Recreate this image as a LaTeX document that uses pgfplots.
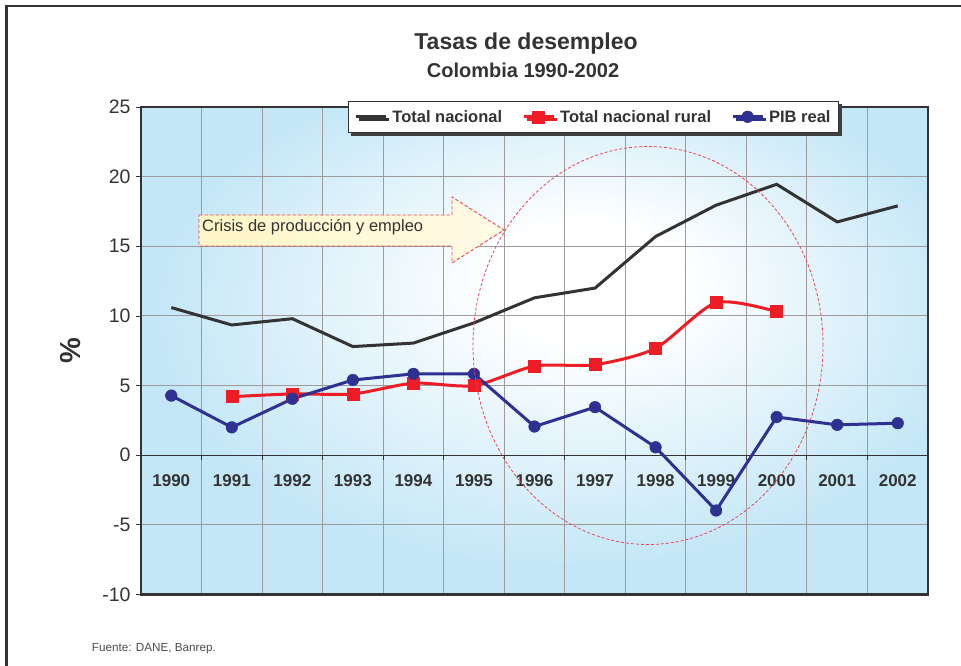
\documentclass[border=0pt]{standalone}
\usepackage{pgfplots}
\pgfplotsset{compat=1.18}
\usepackage{pgfplotstable}
\usepackage{fontspec}
\setmainfont{Liberation Sans}
\usetikzlibrary{shadows}
\definecolor{bgblue}{HTML}{C4E7F7}
\definecolor{txt}{HTML}{333333}
\definecolor{gridc}{HTML}{A09A9A}
\definecolor{serblack}{HTML}{333333}
\definecolor{serred}{HTML}{EE1C25}
\definecolor{serblue}{HTML}{2E3192}
\definecolor{arrowy}{HTML}{FFF6C6}
\definecolor{dashred}{HTML}{EE4455}
\pgfdeclareradialshading{bgshade}{\pgfpoint{4bp}{8bp}}{color(0bp)=(white); color(6bp)=(white); color(26bp)=(bgblue); color(50bp)=(bgblue)}

\pgfplotstableread{
x total
0 10.6
1 9.35
2 9.8
3 7.8
4 8.05
5 9.5
6 11.3
7 12.0
8 15.7
9 17.95
10 19.45
11 16.75
12 17.9
}\tnac
\pgfplotstableread{
x rural
1 4.2
2 4.4
3 4.4
4 5.17
5 5.0
6 6.4
7 6.5
8 7.68
9 10.95
10 10.3
}\trur
\pgfplotstableread{
x pib
0 4.28
1 2.0
2 4.05
3 5.4
4 5.84
5 5.84
6 2.06
7 3.45
8 0.57
9 -3.97
10 2.74
11 2.18
12 2.3
}\tpib

\begin{document}
\begin{tikzpicture}
\path[use as bounding box] (0,0) rectangle (961pt,666pt);
\clip (0,0) rectangle (961pt,666pt);
\draw[line width=2.8pt, txt] (6.5pt,-20pt) -- (6.5pt,660pt) -- (990pt,660pt);

\begin{axis}[
  at={(141pt,71.5pt)}, anchor=south west,
  scale only axis, width=787pt, height=487.5pt,
  xmin=-0.5, xmax=12.5, ymin=-10, ymax=25,
  axis background/.style={shade, shading=bgshade},
  xtick={0,...,12},
  xticklabels={1990,1991,1992,1993,1994,1995,1996,1997,1998,1999,2000,2001,2002},
  minor xtick={0.5,1.5,...,11.5},
  xminorgrids=true, ymajorgrids=true,
  ytick={-10,-5,...,25},
  xtick pos=left, ytick pos=left,
  grid style={gridc, line width=0.9pt},
  minor grid style={gridc, line width=0.9pt},
  axis line style={txt, line width=2.2pt},
  tick align=outside,
  major tick length=5pt, minor tick length=0pt,
  xtick style={draw=none},
  ytick style={txt, line width=0.8pt},
  /pgf/number format/assume math mode=true,
  xticklabel style={font=\fontsize{17}{20}\selectfont\bfseries, text=txt, anchor=center, yshift=119pt},
  yticklabel style={font=\fontsize{19.5}{22}\selectfont, text=txt, xshift=-2pt},
  ylabel={\%},
  every axis y label/.style={at={(axis description cs:-0.0896,0.5)}, rotate=90, anchor=center, font=\fontsize{29}{32}\selectfont\bfseries, text=txt},
  legend columns=3,
  legend cell align=left,
  legend style={at={(0.575,1.013)}, anchor=north, draw=txt, line width=0.8pt, fill=white,
    font=\fontsize{16.5}{19}\selectfont\bfseries, text=txt, inner xsep=6pt, inner ysep=7pt,
    drop shadow={shadow xshift=3pt, shadow yshift=-3pt, fill=black!75, opacity=1},
    /tikz/every even column/.append style={column sep=18pt},
    /tikz/every odd column/.append style={column sep=3pt}},
  legend image code/.code={\draw[mark repeat=2,mark phase=2] plot coordinates {(0pt,0pt) (15pt,0pt) (30pt,0pt)};},
]
\draw[txt, line width=1.4pt] (axis cs:-0.5,0) -- (axis cs:12.5,0);
\pgfplotsinvokeforeach{0.5,1.5,...,11.5}{\draw[txt, line width=0.9pt] (axis cs:#1,0) -- ++(0pt,-5pt);}
\addplot[serblack, line width=3pt, no marks] table[x=x,y=total]{\tnac};
\addlegendentry{Total nacional}
\addplot[serred, line width=3pt, smooth, tension=0.45, mark=square*, mark size=6pt, mark options={solid, line width=0.5pt}] table[x=x,y=rural]{\trur};
\addlegendentry{Total nacional rural}
\addplot[serblue, line width=3pt, mark=*, mark size=5.8pt, mark options={solid, line width=0.5pt}] table[x=x,y=pib]{\tpib};
\addlegendentry{PIB real}
\end{axis}

\draw[dashred, line width=0.8pt, dash pattern=on 3pt off 2pt] (648pt,320.5pt) ellipse [x radius=175pt, y radius=199pt];

\draw[dashred, line width=0.9pt, dash pattern=on 3.5pt off 2pt, left color=arrowy, right color=arrowy!45!white]
  (199pt,451pt) -- (452pt,451pt) -- (452pt,469pt) -- (504pt,436pt) -- (452pt,403pt) -- (452pt,420pt) -- (199pt,420pt) -- cycle;
\node[anchor=base west, inner sep=0pt, text=txt, font=\fontsize{16.5}{19}\selectfont] at (202pt,434.3pt) {Crisis de producción y empleo};

\node[anchor=base, inner sep=0pt, text=txt, font=\fontsize{23}{27}\selectfont\bfseries] at (526pt,616pt) {Tasas de desempleo};
\node[anchor=base, inner sep=0pt, text=txt, font=\fontsize{20}{24}\selectfont\bfseries] at (523pt,588.3pt) {Colombia 1990-2002};
\node[anchor=base west, inner sep=0pt, text=black!70, font=\fontsize{11.7}{14}\selectfont] at (91.7pt,14.3pt) {Fuente: DANE, Banrep.};
\end{tikzpicture}
\end{document}
